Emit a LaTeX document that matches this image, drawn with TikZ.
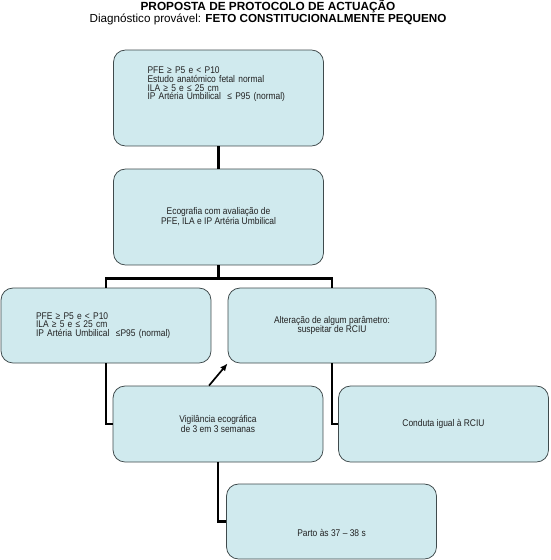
\documentclass[tikz,border=0pt]{standalone}
\usepackage{fontspec}
\setmainfont{Liberation Sans}
\newfontfamily\narrowfont{Liberation Sans}[FakeStretch=0.87]
\usetikzlibrary{arrows.meta}
\definecolor{stageFill}{HTML}{D0EAEE}
\definecolor{stageEdge}{HTML}{3F4A4C}
\definecolor{stageText}{HTML}{222222}

\begin{document}
\begin{tikzpicture}[x=0.05cm,y=-0.05cm,
  stage/.style={draw=stageEdge,line width=1.1pt,fill=stageFill,rounded corners=0.6cm,minimum width=10.5cm,minimum height=3.8cm,align=center,text=stageText,font=\narrowfont\fontsize{13.8}{12.6}\selectfont},
  listbox/.style={stage,align=left,text width=7.1cm,inner xsep=1.7cm},
  link/.style={line width=3.8pt},
  heading/.style={font=\fontsize{16.6}{18}\selectfont,anchor=base}
]
  \useasboundingbox (0,0) rectangle (550,560);
  \node[heading,font=\fontsize{16.8}{18}\selectfont\bfseries] (title) at (268,11) {PROPOSTA DE PROTOCOLO DE ACTUAÇÃO};
  \node[heading] (diagnosis) at (268,22.5) {Diagnóstico provável: \textbf{FETO CONSTITUCIONALMENTE PEQUENO}};
  % caixas do protocolo
  \node[listbox,minimum height=4.8cm,text depth=2.8cm] (profile) at (218.5,98) {PFE ≥ P5 e < P10\\Estudo anatómico fetal normal\\ILA ≥ 5 e ≤ 25 cm\\IP Artéria Umbilical\ \ ≤ P95 (normal)};
  \node[stage,minimum height=4.8cm] (scan) at (218.5,217) {Ecografia com avaliação de\\PFE, ILA e IP Artéria Umbilical};
  \node[listbox,minimum height=3.75cm,text width=7cm] (normal) at (106,325.5) {PFE ≥ P5 e < P10\\ILA ≥ 5 e ≤ 25 cm\\IP Artéria Umbilical\ \ ≤P95 (normal)};
  \node[stage,minimum width=10.4cm,minimum height=3.75cm] (altered) at (332,325.5) {Alteração de algum parâmetro:\\suspeitar de RCIU};
  \node[stage] (watch) at (218,424) {Vigilância ecográfica\\de 3 em 3 semanas};
  \node[stage] (rciu) at (443.5,424) {Conduta igual à RCIU};
  \node[stage,minimum height=3.75cm,text height=1.49cm] (birth) at (331.5,521.5) {Parto às 37 – 38 s};
  % ligacoes
  \draw[link] (profile) -- (scan);
  \draw[link] (scan.south) -- ++(0,13) coordinate (fork);
  \draw[link] (normal.north) |- (fork) -| (altered.north);
  \draw[link] (normal.south) |- (watch.west);
  \draw[link] (altered.south) |- (rciu.west);
  \draw[link] (watch.south) |- (birth.west);
  \draw[-{Latex[length=0.38cm,width=0.32cm]},line width=2.4pt] ([xshift=-0.45cm]watch.north) -- (altered.south west);
\end{tikzpicture}
\end{document}
